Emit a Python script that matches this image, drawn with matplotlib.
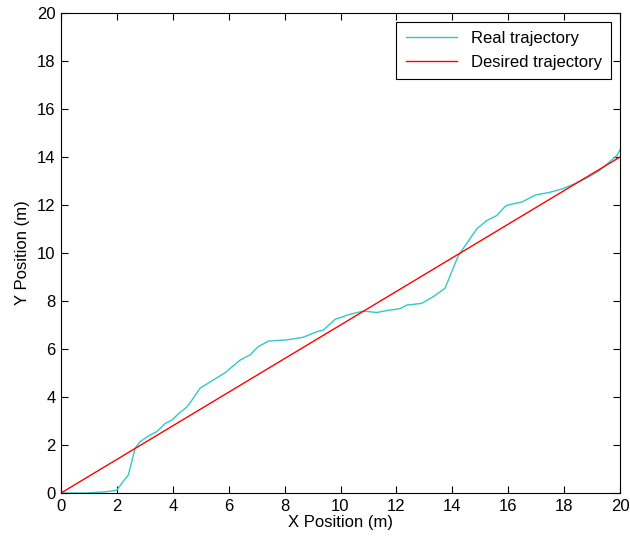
import numpy as np
import matplotlib
matplotlib.use('Agg')
import matplotlib.pyplot as plt

F = 12
plt.rcParams['font.family'] = ['Liberation Sans', 'DejaVu Sans']

# real trajectory
x_real = [0, 0.9, 1.6, 2.0, 2.17, 2.41, 2.53, 2.65, 2.83, 3.19, 3.43, 3.73, 3.97,
          4.2, 4.5, 4.68, 4.97, 5.45, 5.87, 6.41, 6.76, 7.06, 7.42, 8.08, 8.67,
          9.15, 9.39, 9.81, 10.35, 10.82, 11.3, 11.65, 12.13, 12.37, 12.9, 13.32,
          13.74, 13.98, 14.22, 14.51, 14.87, 15.23, 15.59, 15.89, 16.0, 16.5,
          16.98, 17.46, 17.93, 18.41, 18.89, 19.25, 19.6, 19.9, 20.0]
y_real = [0, 0.0, 0.05, 0.12, 0.4, 0.75, 1.3, 1.86, 2.14, 2.42, 2.56, 2.9, 3.04,
          3.3, 3.58, 3.86, 4.36, 4.71, 5.01, 5.54, 5.75, 6.1, 6.33, 6.38, 6.49,
          6.72, 6.79, 7.24, 7.45, 7.58, 7.52, 7.6, 7.68, 7.83, 7.9, 8.18,
          8.53, 9.22, 9.9, 10.39, 11.0, 11.35, 11.56, 11.94, 12.0, 12.13,
          12.42, 12.52, 12.67, 12.9, 13.18, 13.42, 13.77, 14.08, 14.3]

# desired trajectory (straight line)
x_des = [0, 20]
y_des = [0, 14]

xticks = np.arange(0, 21, 2)
yticks = np.arange(0, 21, 2)

fig = plt.figure(figsize=(6.3, 5.41), dpi=100)
ax = fig.add_axes([61/630, 48/541, 559/630, 480/541])

ax.plot(x_real, y_real, color='#33c8c8', lw=1.0, label='Real trajectory')
ax.plot(x_des, y_des, color='#ff0000', lw=1.0, label='Desired trajectory')

ax.set_xlim(0, 20)
ax.set_ylim(0, 20)
ax.set_xticks(xticks)
ax.set_yticks(yticks)
ax.tick_params(direction='in', top=True, right=True, length=5, width=0.8,
               labelsize=F, pad=4)
for sp in ax.spines.values():
    sp.set_linewidth(0.8)

ax.set_xlabel('X Position (m)', fontsize=F, labelpad=1)
ax.set_ylabel('Y Position (m)', fontsize=F, labelpad=5)

leg = ax.legend(loc='upper right', fontsize=F, fancybox=False, framealpha=1,
                edgecolor='black', handlelength=3.1, borderaxespad=0.55,
                labelspacing=0.5, borderpad=0.55)
leg.get_frame().set_linewidth(0.8)

plt.savefig('out.png', dpi=100)
